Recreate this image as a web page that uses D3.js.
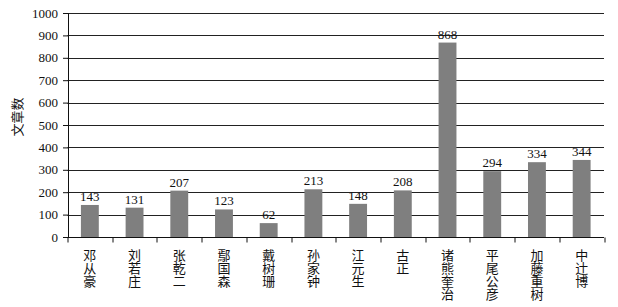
<!DOCTYPE html>
<html>
<head>
<meta charset="utf-8">
<script src="https://cdn.jsdelivr.net/npm/d3@7"></script>
<style>
  body { margin: 0; background: #fff; }
  svg { display: block; }
</style>
</head>
<body>
<div class="chart"></div>
<script>
// data
var names = ["邓从豪", "刘若庄", "张乾二", "鄢国森", "戴树珊", "孙家钟", "江元生", "古正", "诸熊奎治", "平尾公彦", "加藤重树", "中辻博"];
var counts = [143, 131, 207, 123, 62, 213, 148, 208, 868, 294, 334, 344];
var yTicks = [0, 100, 200, 300, 400, 500, 600, 700, 800, 900, 1000];
var yTitle = "文章数";

var svgWidth = 618;
var svgHeight = 307;
var margin = { top: 13, right: 14, bottom: 70, left: 67.5 };

var width = svgWidth - margin.left - margin.right;
var height = svgHeight - margin.top - margin.bottom;

var serif = "'Liberation Serif', 'Times New Roman', serif";
var cjk = "'Noto Sans CJK SC', sans-serif";

var svg = d3.select(".chart")
  .append("svg")
  .attr("width", svgWidth)
  .attr("height", svgHeight);

var chart = svg.append("g")
  .attr("transform", "translate(" + margin.left + "," + margin.top + ")");

var xScale = d3.scaleBand().domain(names).range([0, width]).paddingInner(0.6).paddingOuter(0.3);
var yScale = d3.scaleLinear().domain([0, 1000]).range([height, 0]);

// gridlines
chart.append("g")
  .selectAll("line")
  .data(yTicks.slice(1))
  .enter()
  .append("line")
  .attr("x1", 0)
  .attr("x2", width)
  .attr("y1", function(d) { return Math.round(yScale(d)) + 0.5; })
  .attr("y2", function(d) { return Math.round(yScale(d)) + 0.5; })
  .attr("stroke", "#222")
  .attr("stroke-width", 1);

// bars
chart.selectAll("rect.bar")
  .data(counts)
  .enter()
  .append("rect")
  .attr("class", "bar")
  .attr("x", function(d, i) { return xScale(names[i]); })
  .attr("y", function(d) { return yScale(d); })
  .attr("width", xScale.bandwidth())
  .attr("height", function(d) { return height - yScale(d); })
  .attr("fill", "#7f7f7f");

// value labels
chart.selectAll("text.val")
  .data(counts)
  .enter()
  .append("text")
  .attr("class", "val")
  .attr("x", function(d, i) { return xScale(names[i]) + xScale.bandwidth() / 2; })
  .attr("y", function(d) { return yScale(d) - 4; })
  .attr("text-anchor", "middle")
  .style("font-family", serif)
  .style("font-size", "13px")
  .attr("fill", "#111")
  .text(function(d) { return d; });

// y axis
var leftAxis = d3.axisLeft(yScale).tickValues(yTicks).tickSize(5).tickPadding(5).tickFormat(d3.format("d"));
var yAxis = chart.append("g")
  .attr("transform", "translate(0.5,0)")
  .call(leftAxis);
yAxis.select(".domain").attr("stroke", "#111");
yAxis.selectAll(".tick line").attr("stroke", "#111");
yAxis.selectAll("text")
  .style("font-family", serif)
  .style("font-size", "13px")
  .attr("fill", "#111");

// x axis: ticks at band boundaries
var boundaries = d3.range(names.length + 1);
var step = xScale.step();
var x0 = xScale(names[0]) - xScale.paddingOuter() * step;
var xAxisG = chart.append("g").attr("transform", "translate(0," + (Math.round(height) + 0.5) + ")");
xAxisG.append("line")
  .attr("x1", 0).attr("x2", width)
  .attr("y1", 0).attr("y2", 0)
  .attr("stroke", "#111");
xAxisG.selectAll("line.tk")
  .data(boundaries)
  .enter()
  .append("line")
  .attr("class", "tk")
  .attr("x1", function(d) { return Math.round(x0 + d * step) + 0.5; })
  .attr("x2", function(d) { return Math.round(x0 + d * step) + 0.5; })
  .attr("y1", 0).attr("y2", 5)
  .attr("stroke", "#111");

// vertical category labels
xAxisG.selectAll("text.cat")
  .data(names)
  .enter()
  .append("text")
  .attr("class", "cat")
  .attr("x", function(d) { return xScale(d) + xScale.bandwidth() / 2; })
  .attr("y", 11)
  .style("writing-mode", "vertical-rl")
  .style("letter-spacing", "0px")
  .attr("text-anchor", "start")
  .style("font-family", cjk)
  .style("font-size", "13px")
  .attr("fill", "#111")
  .text(function(d) { return d; });

// y axis title
chart.append("text")
  .attr("transform", "rotate(-90)")
  .attr("x", -(height / 2) + 8)
  .attr("y", -margin.left + 22)
  .attr("text-anchor", "middle")
  .style("font-family", cjk)
  .style("font-size", "13px")
  .attr("fill", "#111")
  .text(yTitle);
</script>
</body>
</html>
